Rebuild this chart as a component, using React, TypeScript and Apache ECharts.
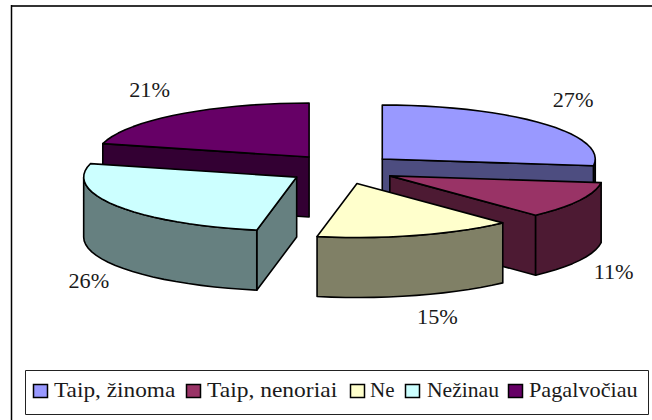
import React, { useEffect, useRef } from "react";
import * as echarts from "echarts";

const categories = ["Taip, žinoma", "Taip, nenoriai", "Ne", "Nežinau", "Pagalvočiau"];
const shares = [27, 11, 15, 26, 21];
const topColors = ["#9999ff", "#993366", "#ffffcc", "#ccffff", "#660066"];
const sideColors = ["#4d4d80", "#4d1a33", "#808066", "#668080", "#330033"];

// Layout (not data)
const CX = 342, CY = 169, RX = 213, RY = 54, DEPTH = 60, EXPLODE_X = 0.252, EXPLODE_Y = 0.28;
const paintOrder = [1, 2, 4, 3, 0];
const labelOffset = [[31, -23], [34, 12], [21, 22], [-28, 15], [-29, -24]];
const swatchX = [33, 186, 350, 405, 508];
const legendTextX = [54, 207, 370, 427, 529];
const legendTextScale = [1.11, 1.12, 1.0, 1.03, 1.06];
const FONT = "21px 'Liberation Serif'";

const rad = (d: number) => (d * Math.PI) / 180;

function renderSlice(params: any, api: any) {
  const i = params.dataIndex;
  const total = shares.reduce((a, b) => a + b, 0);
  const before = shares.slice(0, i).reduce((a, b) => a + b, 0);
  const start = (before / total) * 360;
  const end = start + (api.value(0) / total) * 360;
  const mid = (start + end) / 2;
  const ax = CX + RX * EXPLODE_X * Math.sin(rad(mid));
  const ay = CY - RY * EXPLODE_Y * Math.cos(rad(mid));
  const pt = (t: number, dy = 0): number[] => [ax + RX * Math.sin(rad(t)), ay - RY * Math.cos(rad(t)) + dy];
  const arc = (a: number, b: number, dy = 0) => {
    const out: number[][] = [];
    const n = Math.max(1, Math.ceil((b - a) / 4));
    for (let k = 0; k <= n; k++) out.push(pt(a + ((b - a) * k) / n, dy));
    return out;
  };
  const base = (paintOrder[i] + 1) * 10;
  const line = { stroke: "#000", lineWidth: 1.6, lineJoin: "round" };
  const children: any[] = [];
  const wall = (t: number, z: number) =>
    children.push({
      type: "polygon",
      z2: base + z,
      shape: { points: [[ax, ay], pt(t), pt(t, DEPTH), [ax, ay + DEPTH]] },
      style: { fill: sideColors[i], ...line },
    });
  if (Math.cos(rad(start - 90)) < -1e-6) wall(start, 0);
  if (Math.cos(rad(end + 90)) < -1e-6) wall(end, 0);
  const a0 = Math.max(start, 90), a1 = Math.min(end, 270);
  if (a1 > a0) {
    children.push({
      type: "polygon",
      z2: base + 1,
      shape: { points: [...arc(a0, a1), ...arc(a0, a1, DEPTH).reverse()] },
      style: { fill: sideColors[i], ...line },
    });
  }
  children.push({
    type: "polygon",
    z2: base + 2,
    shape: { points: [[ax, ay], ...arc(start, end)] },
    style: { fill: topColors[i], ...line },
  });
  const m = pt(mid);
  children.push({
    type: "text",
    z2: 200,
    x: m[0] + labelOffset[i][0],
    y: m[1] + labelOffset[i][1] + (mid > 90 && mid < 270 ? DEPTH : 0),
    scaleX: 1.06,
    style: { text: `${shares[i]}%`, font: FONT, fill: "#1a1a1a", align: "center", verticalAlign: "middle" },
  });
  return { type: "group", children };
}

export default function App() {
  const ref = useRef<HTMLDivElement>(null);
  useEffect(() => {
    document.body.style.margin = "0";
    const chart = echarts.init(ref.current!, undefined, { renderer: "svg" });
    const legendEls: any[] = [];
    categories.forEach((name, i) => {
      legendEls.push({
        type: "rect",
        shape: { x: swatchX[i] + 0.5, y: 384.5, width: 14, height: 13 },
        style: { fill: topColors[i], stroke: "#000", lineWidth: 1.5 },
      });
      legendEls.push({
        type: "text",
        x: legendTextX[i],
        y: 390,
        scaleX: legendTextScale[i],
        style: { text: name, font: FONT, fill: "#1a1a1a", align: "left", verticalAlign: "middle" },
      });
    });
    chart.setOption({
      animation: false,
      backgroundColor: "#fff",
      series: [
        {
          type: "custom",
          coordinateSystem: "none",
          silent: true,
          clip: false,
          renderItem: renderSlice,
          data: shares.map((v, i) => ({ name: categories[i], value: [v] })),
        },
      ],
      graphic: {
        elements: [
          { type: "line", shape: { x1: 11.5, y1: 6, x2: 652, y2: 6 }, style: { stroke: "#333", lineWidth: 2 } },
          { type: "line", shape: { x1: 11.5, y1: 5, x2: 11.5, y2: 420 }, style: { stroke: "#000", lineWidth: 1.5 } },
          {
            type: "rect",
            shape: { x: 25.5, y: 370.5, width: 623, height: 44 },
            style: { fill: "#fff", stroke: "#222", lineWidth: 1 },
          },
          ...legendEls,
        ],
      },
    });
    return () => chart.dispose();
  }, []);
  return <div ref={ref} style={{ width: 652, height: 420 }} />;
}
